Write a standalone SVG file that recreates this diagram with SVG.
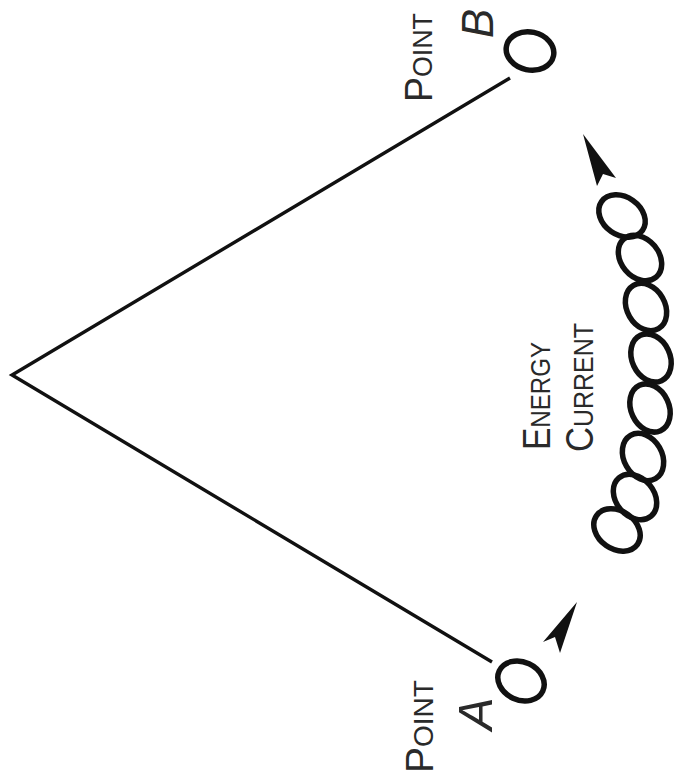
<svg xmlns="http://www.w3.org/2000/svg" width="683" height="781" viewBox="0 0 683 781">
<style>
.lbl{font-family:"Liberation Sans",Arial,sans-serif;fill:#2a2a2a}
.big{font-size:39px}
.sm{font-size:28px}
.it{font-family:"Liberation Sans",Arial,sans-serif;font-style:italic;fill:#2a2a2a}
.o{fill:none;stroke:#111;stroke-width:5.5}
.arr{fill:#111}
</style>
<rect width="683" height="781" fill="#fff"/>
<g id="connectors">
<polyline points="510,78 12,375 492,662" fill="none" stroke="#111" stroke-width="3.4" stroke-linejoin="miter"/>
<polygon class="arr" points="577,602 543,642 555,637 560,653"/>
<polygon class="arr" points="583,134 597,186 603,174 616,178"/>
</g>
<g id="pointB">
<ellipse class="o" cx="530" cy="51" rx="24" ry="19" transform="rotate(12 530 51)"/>
<text class="lbl" transform="translate(432,102) rotate(-90)" textLength="89" lengthAdjust="spacingAndGlyphs"><tspan class="big">P</tspan><tspan class="sm">OINT</tspan></text>
<text class="it" font-size="44" transform="translate(493,38) rotate(-90)">B</text>
</g>
<g id="pointA">
<ellipse class="o" cx="521" cy="681" rx="24" ry="19" transform="rotate(25 521 681)"/>
<text class="lbl" transform="translate(433,773) rotate(-90)" textLength="93" lengthAdjust="spacingAndGlyphs"><tspan class="big">P</tspan><tspan class="sm">OINT</tspan></text>
<text class="it" font-size="49" transform="translate(492,730) rotate(-90)">A</text>
</g>
<g id="energyCurrent">
<text class="lbl" transform="translate(550,450) rotate(-90)" textLength="108" lengthAdjust="spacingAndGlyphs"><tspan class="big">E</tspan><tspan class="sm">NERGY</tspan></text>
<text class="lbl" transform="translate(593,452) rotate(-90)" textLength="129" lengthAdjust="spacingAndGlyphs"><tspan class="big">C</tspan><tspan class="sm">URRENT</tspan></text>
<ellipse class="o" cx="622" cy="216" rx="25" ry="19" transform="rotate(35 622 216)"/>
<ellipse class="o" cx="640" cy="258" rx="25" ry="19" transform="rotate(50 640 258)"/>
<ellipse class="o" cx="646" cy="307" rx="25" ry="19" transform="rotate(60 646 307)"/>
<ellipse class="o" cx="651" cy="358" rx="25" ry="19" transform="rotate(65 651 358)"/>
<ellipse class="o" cx="650" cy="408" rx="25" ry="19" transform="rotate(65 650 408)"/>
<ellipse class="o" cx="643" cy="457" rx="25" ry="19" transform="rotate(60 643 457)"/>
<ellipse class="o" cx="635" cy="497" rx="25" ry="19" transform="rotate(50 635 497)"/>
<ellipse class="o" cx="617" cy="530" rx="25" ry="19" transform="rotate(35 617 530)"/>
</g>
</svg>
